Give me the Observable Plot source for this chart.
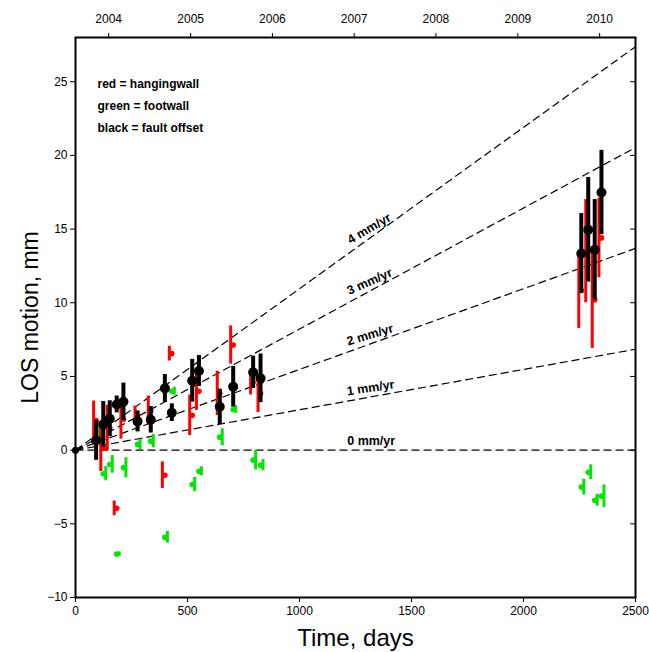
<!DOCTYPE html>
<html><head><meta charset="utf-8">
<script src="https://cdn.jsdelivr.net/npm/d3@7"></script>
<script src="https://cdn.jsdelivr.net/npm/@observablehq/plot@0.6"></script>
<style>body{margin:0;background:#fff;}</style>
</head><body><div id="chart"></div>
<script>
// Epochs (days since first acquisition)
const days = [92,124,153,184,214,277,336,399,430,521,551,644,704,793,826,2258,2289,2318,2348];
// black = fault offset
const offset    = [0.66,1.75,2.13,3.1,3.28,1.95,2.06,4.19,2.54,4.71,5.37,2.94,4.3,5.28,4.87,13.34,14.95,13.6,17.48];
const offsetErr = [1.35,1.55,1.22,0.57,1.27,0.71,0.9,0.94,0.6,1.45,1.05,1.2,1.38,1.1,1.65,2.72,3.55,3.4,2.86];
// red = hangingwall
const hanging    = [2.0,0.15,1.5,-3.95,2.1,2.34,2.67,-1.7,6.55,2.36,4.0,3.85,7.13,4.6,3.85,10.85,13.5,10.2,14.4];
const hangingErr = [1.33,1.6,1.55,0.5,1.35,0.65,1.0,0.9,0.5,1.37,1.3,1.5,1.3,0.85,1.3,2.6,3.5,3.3,2.7];
// green = footwall
const foot    = [1.4,-1.6,-0.97,-7.05,-1.2,0.39,0.61,-5.91,4.0,-2.33,-1.43,0.88,2.76,-0.68,-1.02,-2.51,-1.5,-3.4,-3.12];
const footErr = [0.5,0.48,0.6,0.15,0.68,0.35,0.45,0.4,0.27,0.48,0.3,0.57,0.26,0.66,0.38,0.54,0.5,0.4,0.76];
// reference point
const originDay = [0];
const originVal = [0];
// rate lines
const rates = [0,1,2,3,4];
const rateLabels = ["0 mm/yr","1 mm/yr","2 mm/yr","3 mm/yr","4 mm/yr"];
const labelDay = 1320;
// axes
const xTicks = [0,500,1000,1500,2000,2500];
const yTicks = [-10,-5,0,5,10,15,20,25];
const yearDays = [148,514,879,1244,1609,1975,2340];
const yearLabels = ["2004","2005","2006","2007","2008","2009","2010"];
const legendLines = ["red = hangingwall","green = footwall","black = fault offset"];

const W = 649, H = 652, ML = 75, MR = 14, MT = 37, MB = 55;
const xDomain = [0, 2500], yDomain = [-10, 28];
const pxPerDay = (W - ML - MR) / (xDomain[1] - xDomain[0]);
const pxPerMm = (H - MT - MB) / (yDomain[1] - yDomain[0]);
const angleOf = r => -Math.atan(0.82 * r / 365.25 * pxPerMm / pxPerDay) * 180 / Math.PI;

const pts = days.map((t, i) => ({t, off: offset[i], offE: offsetErr[i], hw: hanging[i], hwE: hangingErr[i], fw: foot[i], fwE: footErr[i]}));
const RED = "#ff0000", GREEN = "#00e600";
const tickRight = {draw(ctx, l) { ctx.moveTo(0, 0); ctx.lineTo(0, -l); }};

const chart = Plot.plot({
  width: W, height: H,
  marginLeft: ML, marginRight: MR, marginTop: MT, marginBottom: MB,
  style: {fontFamily: "'Liberation Sans', Arial, Helvetica, sans-serif", fontSize: "12px", background: "#fff", overflow: "visible"},
  x: {domain: xDomain},
  y: {domain: yDomain},
  marks: [
    Plot.link(rates, {x1: 0, y1: 0, x2: xDomain[1], y2: r => r * xDomain[1] / 365.25, stroke: "#000", strokeWidth: 1.2, strokeDasharray: "8,4"}),
    Plot.text(rates, {x: labelDay, y: r => r * labelDay / 365.25, text: (r, i) => rateLabels[i], rotate: r => angleOf(r), lineAnchor: "bottom", dy: -5, fontWeight: "bold", fontSize: 12.5}),
    // footwall
    Plot.ruleX(pts, {x: "t", y1: d => d.fw - d.fwE, y2: d => d.fw + d.fwE, stroke: GREEN, strokeWidth: 3, dx: 2.5}),
    Plot.dot(pts, {x: "t", y: "fw", r: 2.8, fill: GREEN}),
    // hangingwall
    Plot.ruleX(pts, {x: "t", y1: d => d.hw - d.hwE, y2: d => d.hw + d.hwE, stroke: RED, strokeWidth: 3, dx: -2.5}),
    Plot.dot(pts, {x: "t", y: "hw", r: 2.8, fill: RED}),
    // fault offset
    Plot.ruleX(pts, {x: "t", y1: d => d.off - d.offE, y2: d => d.off + d.offE, stroke: "#000", strokeWidth: 4}),
    Plot.dot(pts, {x: "t", y: "off", r: 5, fill: "#000"}),
    Plot.dot(originDay, {x: d => d, y: (d, i) => originVal[i], r: 3.5, fill: "#000"}),
    // axes
    Plot.axisX({anchor: "bottom", ticks: xTicks, tickFormat: d3.format("d"), tickSize: 5, tickPadding: 4, label: null, fontSize: 12}),
    Plot.axisX({anchor: "top", ticks: yearDays, tickFormat: d => yearLabels[yearDays.indexOf(d)], tickSize: 5, tickPadding: 10, label: null, fontSize: 12}),
    Plot.axisY({anchor: "left", ticks: yTicks, tickSize: 5, tickPadding: 3, label: null, fontSize: 12}),
    Plot.vector(yTicks, {y: d => d, frameAnchor: "right", length: 5, rotate: -90, anchor: "start", shape: tickRight, stroke: "#000", strokeWidth: 1}),
    Plot.frame({stroke: "#000", strokeWidth: 2}),
    // legend text
    Plot.text([legendLines.join("\n")], {frameAnchor: "top-left", dx: 22, dy: 35, lineAnchor: "top", lineHeight: 1.83, textAnchor: "start", fontWeight: "bold", fontSize: 12}),
    // axis titles
    Plot.text(["LOS motion, mm"], {frameAnchor: "left", rotate: -90, dx: -45, textAnchor: "middle", lineAnchor: "middle", fontSize: 23}),
    Plot.text(["Time, days"], {frameAnchor: "bottom", dy: 41, textAnchor: "middle", lineAnchor: "middle", fontSize: 24})
  ]
});
document.getElementById("chart").appendChild(chart);
</script>
</body></html>
